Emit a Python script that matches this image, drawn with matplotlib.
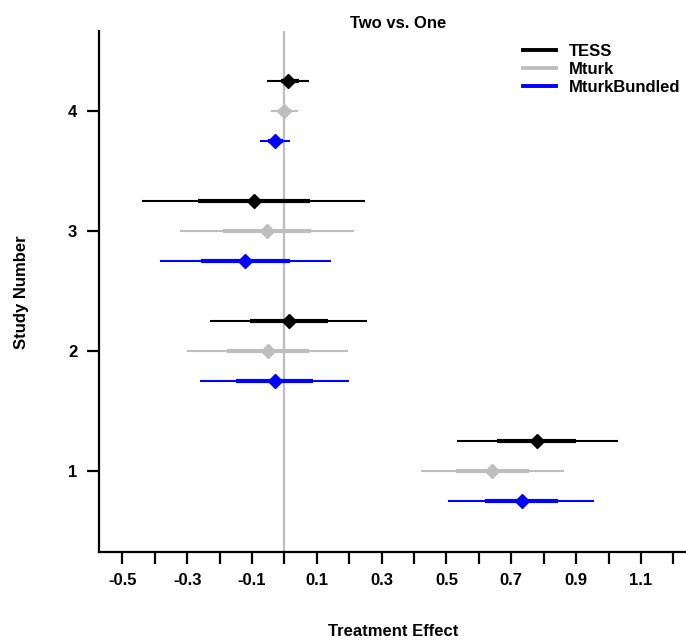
import numpy as np
import matplotlib
matplotlib.use('Agg')
import matplotlib.pyplot as plt
from matplotlib.lines import Line2D

plt.rcParams['font.family'] = ['Liberation Sans', 'DejaVu Sans']
plt.rcParams['font.weight'] = 'bold'

studies = [1, 2, 3, 4]
series = ['TESS', 'Mturk', 'MturkBundled']
colors = ['black', '#bebebe', 'blue']
offsets = [0.25, 0.0, -0.25]

# point estimates per study (1..4)
est = {
    'TESS': [0.778, 0.014, -0.094, 0.011],
    'Mturk': [0.641, -0.051, -0.054, 0.0],
    'MturkBundled': [0.732, -0.030, -0.121, -0.030],
}
# outer interval (thin line)
lo95 = {
    'TESS': [0.534, -0.230, -0.438, -0.054],
    'Mturk': [0.421, -0.299, -0.323, -0.042],
    'MturkBundled': [0.506, -0.261, -0.384, -0.076],
}
hi95 = {
    'TESS': [1.028, 0.254, 0.249, 0.077],
    'Mturk': [0.862, 0.195, 0.216, 0.041],
    'MturkBundled': [0.956, 0.200, 0.144, 0.016],
}
# inner interval (thick line)
lo68 = {
    'TESS': [0.657, -0.107, -0.268, -0.010],
    'Mturk': [0.529, -0.176, -0.189, -0.020],
    'MturkBundled': [0.619, -0.150, -0.256, -0.051],
}
hi68 = {
    'TESS': [0.901, 0.134, 0.080, 0.046],
    'Mturk': [0.754, 0.077, 0.082, 0.021],
    'MturkBundled': [0.844, 0.088, 0.016, -0.005],
}

xticks = np.round(np.arange(-0.5, 1.21, 0.1), 1)

W, H = 686, 641
fig = plt.figure(figsize=(W / 100, H / 100), dpi=100)
ax = fig.add_axes([99 / W, 1 - 551.5 / H, 1 - 99 / W, (551.5 - 31) / H])

ax.axvline(0, color='#bebebe', lw=1.6, zorder=1)

for name, col, off in zip(series, colors, offsets):
    y = np.array(studies) + off
    ax.hlines(y, lo95[name], hi95[name], color=col, lw=1.5, zorder=2)
    ax.hlines(y, lo68[name], hi68[name], color=col, lw=3.0, zorder=3)
    ax.plot(est[name], y, 'D', color=col, ms=7, mec=col, zorder=4)

ax.set_xlim(-0.572, 1.239)
ax.set_ylim(0.329, 4.667)
ax.set_xticks(xticks)
ax.set_xticklabels([f'{v:.1f}' if i % 2 == 0 else '' for i, v in enumerate(xticks)],
                   fontsize=12, fontweight='bold')
ax.set_yticks(studies)
ax.set_yticklabels([str(s) for s in studies], fontsize=12, fontweight='bold')
ax.tick_params(direction='out', length=8.6, width=1.6, pad=7)
for s in ['top', 'right']:
    ax.spines[s].set_visible(False)
for s in ['left', 'bottom']:
    ax.spines[s].set_linewidth(1.6)

fig.text(398 / W, 1 - 23 / H, 'Two vs. One', ha='center', va='center',
         fontsize=12, fontweight='bold')
fig.text(22 / W, 1 - 292 / H, 'Study Number', ha='center', va='center',
         rotation=90, fontsize=12, fontweight='bold')
fig.text(393 / W, 1 - 631 / H, 'Treatment Effect', ha='center', va='center',
         fontsize=12, fontweight='bold')

handles = [Line2D([], [], color=c, lw=2.8) for c in colors]
ax.legend(handles, series, loc='upper left', bbox_to_anchor=(523 / W, 1 - 44 / H),
          bbox_transform=fig.transFigure, frameon=False, prop={'size': 12, 'weight': 'bold'},
          handlelength=2.0, handletextpad=0.75, labelspacing=0.17, borderpad=0, borderaxespad=0)

fig.savefig('out.png', dpi=100)
